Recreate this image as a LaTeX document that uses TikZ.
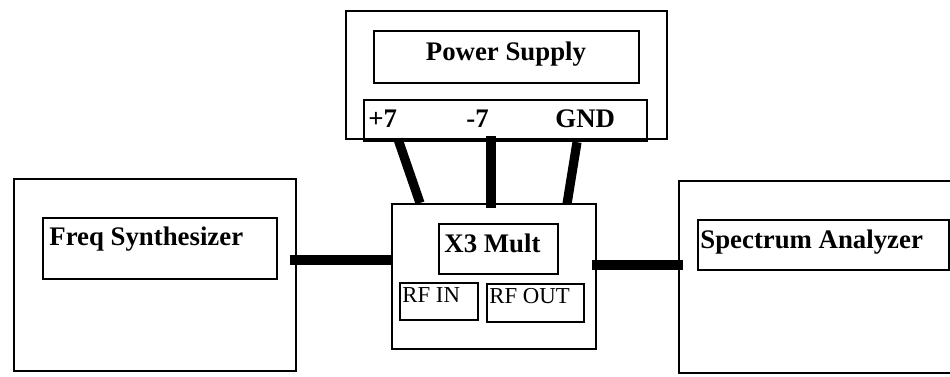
\documentclass[tikz,border=0pt]{standalone}
\usepackage{fontspec}
\setmainfont{Liberation Serif}
\usetikzlibrary{calc}
\begin{document}
\begin{tikzpicture}[x=0.5pt,y=-0.5pt,
  box/.style={draw,line width=1.1pt,inner sep=0pt,anchor=north west},
  wire/.style={line width=4.6pt,line cap=butt},
  lbl/.style={font=\fontsize{13.4pt}{15pt}\selectfont\bfseries,inner sep=0pt,anchor=base west},
  small/.style={font=\fontsize{11.4pt}{13pt}\selectfont,inner sep=0pt,anchor=base west}]
\useasboundingbox (0,0) rectangle (950,376);
\clip (0,0) rectangle (950,376);
% power supply
\node[box,minimum width=160.5pt,minimum height=64pt] (psOuter) at (345,10) {};
\node[box,minimum width=132.5pt,minimum height=26pt] (psInner) at (373,30) {};
\node[box,minimum width=141.5pt,minimum height=20.5pt] (psStrip) at (363,99) {};
\node[lbl,anchor=base] (psText) at (506,60) {Power Supply};
\node[lbl] (pPlus) at (368,127) {+7};
\node[lbl] (pMinus) at (466,127) {-7};
\node[lbl] (pGnd) at (555,127) {GND};
% freq synthesizer
\node[box,minimum width=141pt,minimum height=96pt] (fsOuter) at (13,178) {};
\node[box,minimum width=117pt,minimum height=30.5pt] (fsInner) at (42,217) {};
\node[lbl] (fsText) at (49,245) {Freq Synthesizer};
% multiplier
\node[box,minimum width=102pt,minimum height=72.5pt] (x3Outer) at (391,203) {};
\node[box,minimum width=59.5pt,minimum height=25pt] (x3Inner) at (438,223) {};
\node[lbl] (x3Text) at (444,252) {X3 Mult};
\node[box,minimum width=39pt,minimum height=18.5pt] (rfin) at (399,282) {};
\node[box,minimum width=48.5pt,minimum height=19pt] (rfout) at (486,283) {};
\node[small] (rfinText) at (402,302) {RF IN};
\node[small] (rfoutText) at (489,303) {RF OUT};
% spectrum analyzer
\node[box,minimum width=150pt,minimum height=96pt] (saOuter) at (678,180) {};
\node[box,minimum width=125.5pt,minimum height=25pt] (saInner) at (697,219) {};
\node[lbl] (saText) at (700,248) {Spectrum Analyzer};
% connectors
\coordinate (lc) at ($(fsOuter.north east)+(-7,82)$);
\draw[wire] (lc) -- (lc -| x3Outer.west);
\coordinate (rc) at ($(x3Outer.north east)+(-5,62)$);
\draw[wire] (rc) -- ($(rc -| saOuter.west)+(5,0)$);
\draw[wire] ($(psStrip.south west)+(35,-3)$) -- ($(x3Outer.north west)+(29,0)$);
\draw[wire] ($(psStrip.south west)+(128,-6)$) -- ($(x3Outer.north west)+(100,5)$);
\draw[wire] ($(psStrip.south west)+(214,0)$) -- ($(x3Outer.north west)+(176,1)$);
\end{tikzpicture}
\end{document}
